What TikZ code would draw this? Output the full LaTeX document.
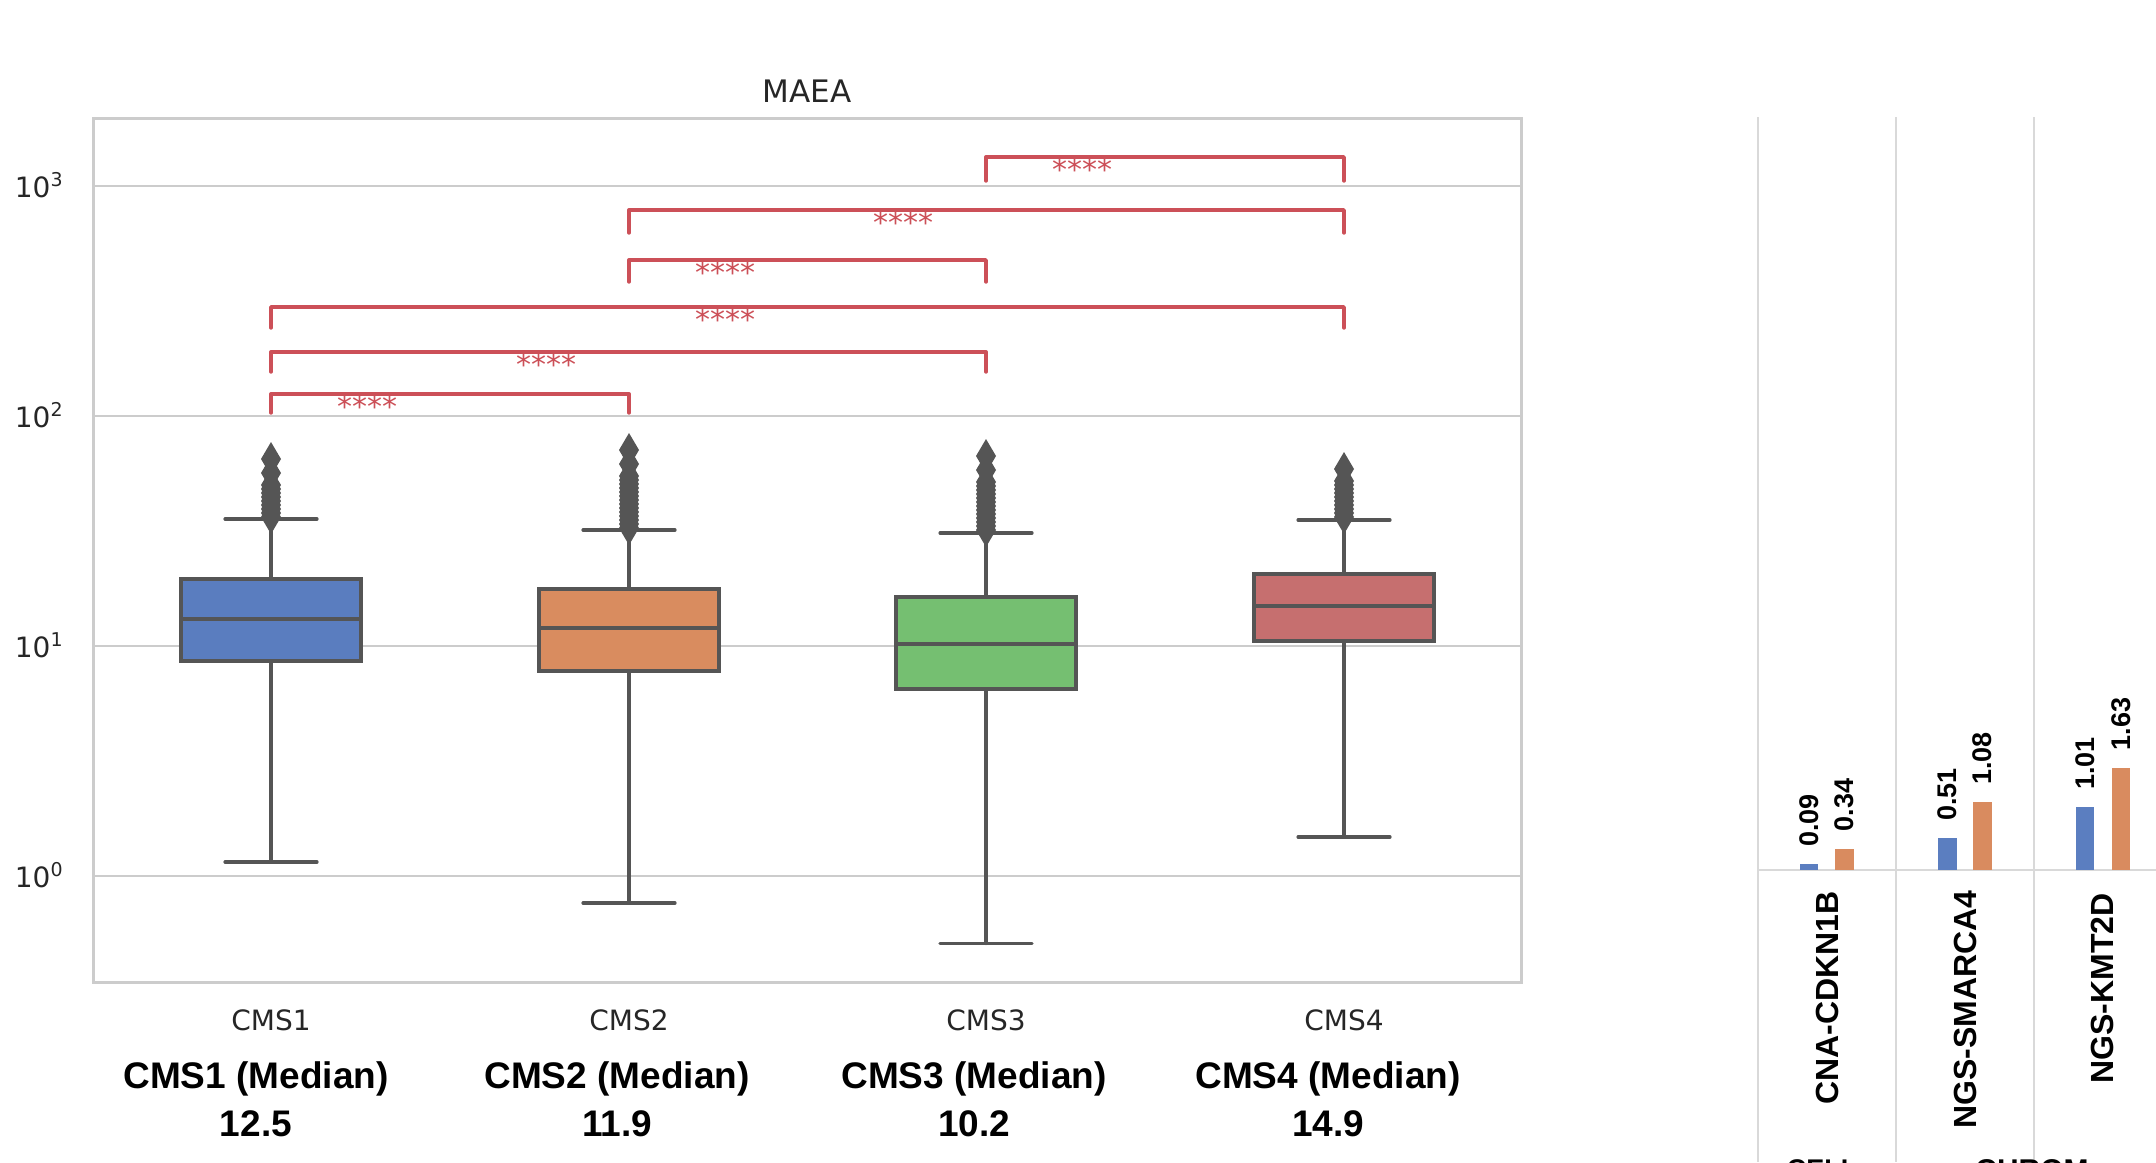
\documentclass[tikz,border=0pt]{standalone}
\usepackage{fontspec}
\setmainfont{DejaVu Sans}
\newfontfamily\arial{Liberation Sans}
\usetikzlibrary{positioning}

\definecolor{gridgray}{HTML}{CCCCCC}
\definecolor{panelgray}{HTML}{D9D9D9}
\definecolor{boxline}{HTML}{555555}
\definecolor{ticktext}{HTML}{262626}
\definecolor{cmsblue}{HTML}{5A7DBF}
\definecolor{cmsorange}{HTML}{D98C5F}
\definecolor{cmsgreen}{HTML}{75BF71}
\definecolor{cmsred}{HTML}{C66F6F}
\definecolor{sigred}{HTML}{CC5058}
\definecolor{barblue}{HTML}{5B7EC0}
\definecolor{barorange}{HTML}{D98B5F}

\begin{document}
\begin{tikzpicture}[x=0.5pt,y=-0.5pt,
  gridline/.style={gridgray,line width=1pt},
  frame/.style={draw=gridgray,line width=1.5pt},
  cmsbox/.style={draw=boxline,line width=1.6pt},
  whisker/.style={boxline,line width=1.6pt,line cap=round},
  flier/.style={fill=boxline},
  sigbar/.style={sigred,line width=1.7pt,line cap=round,line join=round},
  stars/.style={text=sigred,anchor=base,inner sep=0,font=\fontsize{15}{15}\selectfont},
  ticklab/.style={text=ticktext,anchor=base,inner sep=0,font=\fontsize{14}{14}\selectfont},
  ytick/.style={ticklab,anchor=base east},
  medlab/.style={anchor=base,inner sep=0,font=\arial\bfseries\fontsize{18.5}{18.5}\selectfont},
  panel/.style={panelgray,line width=1pt},
  catlab/.style={rotate=90,anchor=east,inner sep=0,font=\arial\bfseries\fontsize{16}{16}\selectfont},
  vallab/.style={rotate=90,anchor=west,inner sep=0,font=\arial\bfseries\fontsize{13.5}{13.5}\selectfont}]
\useasboundingbox (0,0) rectangle (2156,1162);

\draw[gridline] (93,185.7) -- (1521,185.7);
\draw[gridline] (93,415.7) -- (1521,415.7);
\draw[gridline] (93,645.7) -- (1521,645.7);
\draw[gridline] (93,875.7) -- (1521,875.7);
\draw[frame] (93,118) rectangle (1521,982);

\node[ticklab,font=\fontsize{15.5}{15.5}\selectfont] (title) at (807,102) {MAEA};
\node[ytick] (y3) at (63,197.7) {10\raisebox{5.5pt}{\fontsize{9.5}{9.5}\selectfont 3}};
\node[ytick] (y2) at (63,427.7) {10\raisebox{5.5pt}{\fontsize{9.5}{9.5}\selectfont 2}};
\node[ytick] (y1) at (63,657.7) {10\raisebox{5.5pt}{\fontsize{9.5}{9.5}\selectfont 1}};
\node[ytick] (y0) at (63,887.7) {10\raisebox{5.5pt}{\fontsize{9.5}{9.5}\selectfont 0}};

\draw[whisker] (271,579) -- (271,519) (225,519) -- (317,519);
\draw[whisker] (271,661) -- (271,862) (225,862) -- (317,862);
\foreach \y in {459,473,485,489,...,517}
  \fill[flier] (271,\y-17) -- (281,\y) -- (271,\y+17) -- (261,\y) -- cycle;
\draw[cmsbox,fill=cmsblue] (181,579) rectangle (361,661);
\draw[whisker] (181,619) -- (361,619);

\draw[whisker] (629,589) -- (629,530) (583,530) -- (675,530);
\draw[whisker] (629,671) -- (629,903) (583,903) -- (675,903);
\foreach \y in {450,464,476,480,...,528}
  \fill[flier] (629,\y-17) -- (639,\y) -- (629,\y+17) -- (619,\y) -- cycle;
\draw[cmsbox,fill=cmsorange] (539,589) rectangle (719,671);
\draw[whisker] (539,628) -- (719,628);

\draw[whisker] (986,597) -- (986,533) (940,533) -- (1032,533);
\draw[whisker] (986,689) -- (986,943.5) (940,943.5) -- (1032,943.5);
\foreach \y in {456,470,482,486,...,530}
  \fill[flier] (986,\y-17) -- (996,\y) -- (986,\y+17) -- (976,\y) -- cycle;
\draw[cmsbox,fill=cmsgreen] (896,597) rectangle (1076,689);
\draw[whisker] (896,644) -- (1076,644);

\draw[whisker] (1344,574) -- (1344,520) (1298,520) -- (1390,520);
\draw[whisker] (1344,641) -- (1344,837) (1298,837) -- (1390,837);
\foreach \y in {469,481,485,...,517}
  \fill[flier] (1344,\y-17) -- (1354,\y) -- (1344,\y+17) -- (1334,\y) -- cycle;
\draw[cmsbox,fill=cmsred] (1254,574) rectangle (1434,641);
\draw[whisker] (1254,606) -- (1434,606);

\draw[sigbar] (986,181) -- (986,157) -- (1344,157) -- (1344,181);
\node[stars] (s34) at (1082,180) {****};
\draw[sigbar] (629,233) -- (629,210) -- (1344,210) -- (1344,233);
\node[stars] (s24) at (903,233) {****};
\draw[sigbar] (629,282) -- (629,260) -- (986,260) -- (986,282);
\node[stars] (s23) at (725,283) {****};
\draw[sigbar] (271,328) -- (271,307) -- (1344,307) -- (1344,328);
\node[stars] (s14) at (725,330) {****};
\draw[sigbar] (271,372) -- (271,352) -- (986,352) -- (986,372);
\node[stars] (s13) at (546,375) {****};
\draw[sigbar] (271,413) -- (271,394) -- (629,394) -- (629,413);
\node[stars] (s12) at (367,417) {****};

\node[ticklab] (cms1) at (271,1030) {CMS1};
\node[ticklab] (cms2) at (629,1030) {CMS2};
\node[ticklab] (cms3) at (986,1030) {CMS3};
\node[ticklab] (cms4) at (1344,1030) {CMS4};
\node[medlab] (med1) at (256,1088) {CMS1 (Median)};
\node[medlab] (med2) at (617,1088) {CMS2 (Median)};
\node[medlab] (med3) at (974,1088) {CMS3 (Median)};
\node[medlab] (med4) at (1328,1088) {CMS4 (Median)};
\node[medlab] (val1) at (256,1136) {12.5};
\node[medlab] (val2) at (617,1136) {11.9};
\node[medlab] (val3) at (974,1136) {10.2};
\node[medlab] (val4) at (1328,1136) {14.9};

\draw[panel] (1758,117) -- (1758,1162);
\draw[panel] (1896,117) -- (1896,1162);
\draw[panel] (2034,117) -- (2034,1162);
\draw[panel] (1758,870) -- (2156,870);

\fill[barblue] (1800,864.3) rectangle (1818,870);
\fill[barorange] (1835,848.7) rectangle (1854,870);
\fill[barblue] (1938,838) rectangle (1957,870);
\fill[barorange] (1973,802) rectangle (1992,870);
\fill[barblue] (2076,806.6) rectangle (2094,870);
\fill[barorange] (2112,767.6) rectangle (2130,870);

\node[vallab] (v1) at (1809,847) {0.09};
\node[vallab] (v2) at (1844.5,831.7) {0.34};
\node[vallab] (v3) at (1947.5,821) {0.51};
\node[vallab] (v4) at (1982.5,785) {1.08};
\node[vallab] (v5) at (2085,790) {1.01};
\node[vallab] (v6) at (2121,750.6) {1.63};

\node[catlab] (cdkn1b) at (1827,891) {CNA-CDKN1B};
\node[catlab] (smarca4) at (1965,890) {NGS-SMARCA4};
\node[catlab] (kmt2d) at (2102,893) {NGS-KMT2D};

\node[medlab,font=\arial\bfseries\fontsize{13.5}{13.5}\selectfont] (cell) at (1822,1178) {CELL};
\node[medlab,font=\arial\bfseries\fontsize{15}{15}\selectfont] (chrom) at (2032,1180) {CHROM};
\end{tikzpicture}
\end{document}
